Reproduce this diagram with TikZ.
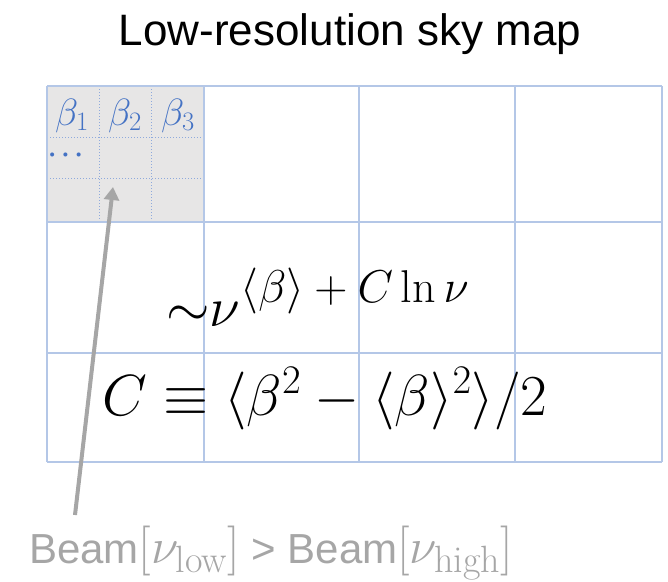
\documentclass[tikz,border=0pt]{standalone}
\usepackage{fix-cm}
\usepackage{amsmath}
\usepackage{fontspec}
\setsansfont{Liberation Sans}
\usetikzlibrary{arrows.meta}

\definecolor{gridblue}{HTML}{B4C7E7}
\definecolor{dotblue}{HTML}{8FAADC}
\definecolor{betablue}{HTML}{4472C4}
\definecolor{cellgray}{HTML}{E7E6E6}
\definecolor{beamgray}{HTML}{A6A6A6}

% beam argument, set in a larger math size than the sans text
\newcommand{\freqarg}[1]{{\fontsize{50}{54}\selectfont$[\nu_{\hbox{\fontsize{38}{40}\selectfont\rmfamily#1}}]$}}
% exponent of the law, kept in text style
\newcommand{\lawexp}{\raisebox{3pt}{\fontsize{46}{50}\selectfont$\langle\beta\rangle+C\ln\nu$}}

\tikzset{
  gridline/.style={gridblue, line width=1.2pt},
  subline/.style={dotblue, line width=1pt, dotted},
  betalabel/.style={anchor=base, inner sep=0pt, text=betablue, font=\fontsize{38}{42}\selectfont},
  bigmath/.style={anchor=base west, inner sep=0pt, font=\fontsize{58}{62}\selectfont}
}

\begin{document}
\begin{tikzpicture}[x=1pt, y=-1pt]
  \useasboundingbox (0,0) rectangle (668,581);

  % shaded low-res pixel with its sub-pixels
  \fill[cellgray] (47,86) rectangle (204,222);
  \foreach \x in {99,151} \draw[subline] (\x,86) -- (\x,222);
  \foreach \y in {137,178} \draw[subline] (47,\y) -- (204,\y);

  % the map grid
  \foreach \x in {47,204,359,515,662} \draw[gridline] (\x,86) -- (\x,462);
  \foreach \y in {86,222,353,462} \draw[gridline] (47,\y) -- (662,\y);

  \node[anchor=base, inner sep=0pt, font=\sffamily\fontsize{44}{50}\selectfont] (title) at (350,45) {Low-resolution sky map};

  \node[betalabel] (b1) at (72,125) {$\beta_1$};
  \node[betalabel] (b2) at (125,125) {$\beta_2$};
  \node[betalabel] (b3) at (178,125) {$\beta_3$};
  \node[betalabel, anchor=center, font=\fontsize{26}{28}\selectfont\boldmath] (dots) at (68,155) {$\cdots$};

  \node[bigmath, font=\fontsize{56}{60}\selectfont] (law) at (166,326) {$\mathord{\sim}\nu^{\lawexp}$};
  \node[bigmath] (curv) at (102,415) {$C\equiv\langle\beta^2-\langle\beta\rangle^2\rangle/2$};

  % beam arrow
  \node[anchor=base west, inner sep=0pt, text=beamgray, font=\sffamily\fontsize{42}{46}\selectfont] (beam) at (29,563)
    {Beam\freqarg{low} > Beam\freqarg{high}};
  \coordinate (tail) at (75,515);
  \coordinate (tip) at (113,187);
  \draw[beamgray, line width=4pt, -{Triangle[width=15pt,length=13pt]}] (tail) -- (tip);
\end{tikzpicture}
\end{document}
